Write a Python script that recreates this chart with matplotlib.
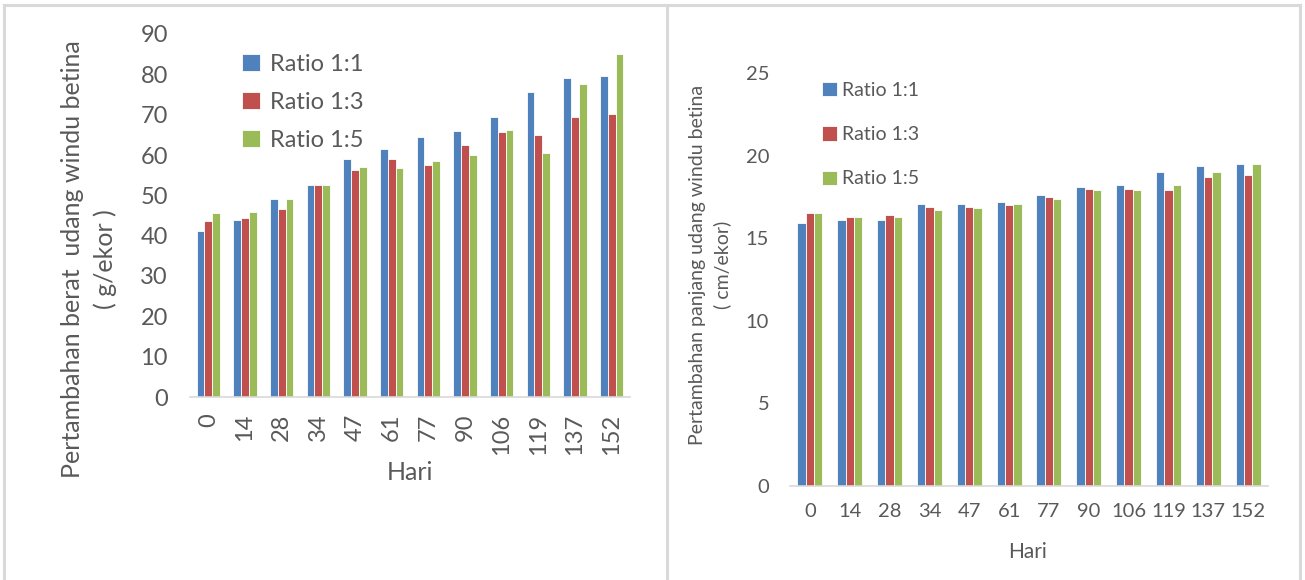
import numpy as np
import matplotlib.pyplot as plt
from matplotlib.lines import Line2D

plt.rcParams['font.family'] = ['Lato', 'DejaVu Sans']

hari = ['0', '14', '28', '34', '47', '61', '77', '90', '106', '119', '137', '152']
series = ['Ratio 1:1', 'Ratio 1:3', 'Ratio 1:5']

# pertambahan berat (g/ekor)
berat_11 = [41.1, 44.0, 49.1, 52.6, 58.9, 61.5, 64.4, 66.0, 69.5, 75.6, 79.1, 79.7]
berat_13 = [43.7, 44.3, 46.5, 52.6, 56.4, 58.9, 57.4, 62.5, 65.6, 65.0, 69.5, 70.1]
berat_15 = [45.5, 45.8, 49.1, 52.6, 57.0, 56.7, 58.6, 59.9, 66.3, 60.5, 77.5, 85.1]

# pertambahan panjang (cm/ekor)
panjang_11 = [15.9, 16.1, 16.1, 17.1, 17.1, 17.2, 17.6, 18.1, 18.2, 19.0, 19.4, 19.5]
panjang_13 = [16.5, 16.3, 16.4, 16.9, 16.9, 17.0, 17.5, 18.0, 18.0, 17.9, 18.7, 18.8]
panjang_15 = [16.5, 16.3, 16.3, 16.7, 16.8, 17.1, 17.4, 17.9, 17.9, 18.2, 19.0, 19.5]

colors = ['#4F81BD', '#C0504D', '#9BBB59']
txt = '#595959'
W, H = 1305, 580

fig = plt.figure(figsize=(W / 100, H / 100), dpi=100)

# panel frame
for xs, ys in [([4, 4], [5, 580]), ([1300, 1300], [5, 580]), ([4, 1300], [5, 5]),
               ([667, 667], [5, 580])]:
    fig.add_artist(Line2D([x / W for x in xs], [1 - y / H for y in ys], color='#d9d9d9', lw=2.2))


def bars(ax, data, ymax, step, fs_tick, rot, pad_x, pad_y):
    x = np.arange(len(hari))
    w = 0.21
    for i, (vals, c, lab) in enumerate(zip(data, colors, series)):
        ax.bar(x + (i - 1) * w, vals, w, color=c, edgecolor='white', linewidth=0.6, label=lab)
    ax.set_xlim(-0.5, len(hari) - 0.5)
    ax.set_ylim(0, ymax)
    ax.set_yticks(np.arange(0, ymax + 1, step))
    ax.set_xticks(x)
    ax.set_xticklabels(hari, rotation=rot)
    for s in ['top', 'right', 'left']:
        ax.spines[s].set_visible(False)
    ax.spines['bottom'].set_color('#d9d9d9')
    ax.spines['bottom'].set_linewidth(1.2)
    ax.tick_params(axis='both', length=0, labelcolor=txt, labelsize=fs_tick)
    ax.tick_params(axis='x', pad=pad_x)
    ax.tick_params(axis='y', pad=pad_y)


# left: berat
ax1 = fig.add_axes([190 / W, 1 - 397 / H, 440 / W, 363 / H])
bars(ax1, [berat_11, berat_13, berat_15], 90, 10, 17, 90, 12, 16)
ax1.legend(loc='upper left', bbox_to_anchor=(242 / W, 1 - 54 / H), bbox_transform=fig.transFigure,
           frameon=False, fontsize=17, labelcolor=txt, handlelength=0.75, handleheight=0.7,
           handletextpad=0.45, labelspacing=0.72, borderpad=0, borderaxespad=0)
fig.text(89 / W, 1 - 259 / H, 'Pertambahan berat  udang windu betina\n( g/ekor )', rotation=90,
         ha='center', va='center', multialignment='center', fontsize=18, color=txt, linespacing=1.45)
fig.text(410 / W, 1 - 473 / H, 'Hari', ha='center', va='center', fontsize=18, color=txt)

# right: panjang
ax2 = fig.add_axes([790 / W, 1 - 486 / H, 478 / W, 413 / H])
bars(ax2, [panjang_11, panjang_13, panjang_15], 25, 5, 14.5, 0, 12, 15)
ax2.legend(loc='upper left', bbox_to_anchor=(822 / W, 1 - 82 / H), bbox_transform=fig.transFigure,
           frameon=False, fontsize=14, labelcolor=txt, handlelength=0.75, handleheight=0.75,
           handletextpad=0.3, labelspacing=1.4, borderpad=0, borderaxespad=0)
fig.text(710 / W, 1 - 265 / H, 'Pertambahan panjang udang windu betina\n( cm/ekor)', rotation=90,
         ha='center', va='center', multialignment='center', fontsize=14, color=txt, linespacing=1.45)
fig.text(1028 / W, 1 - 552 / H, 'Hari', ha='center', va='center', fontsize=15, color=txt)

fig.savefig('out.png', dpi=100)
